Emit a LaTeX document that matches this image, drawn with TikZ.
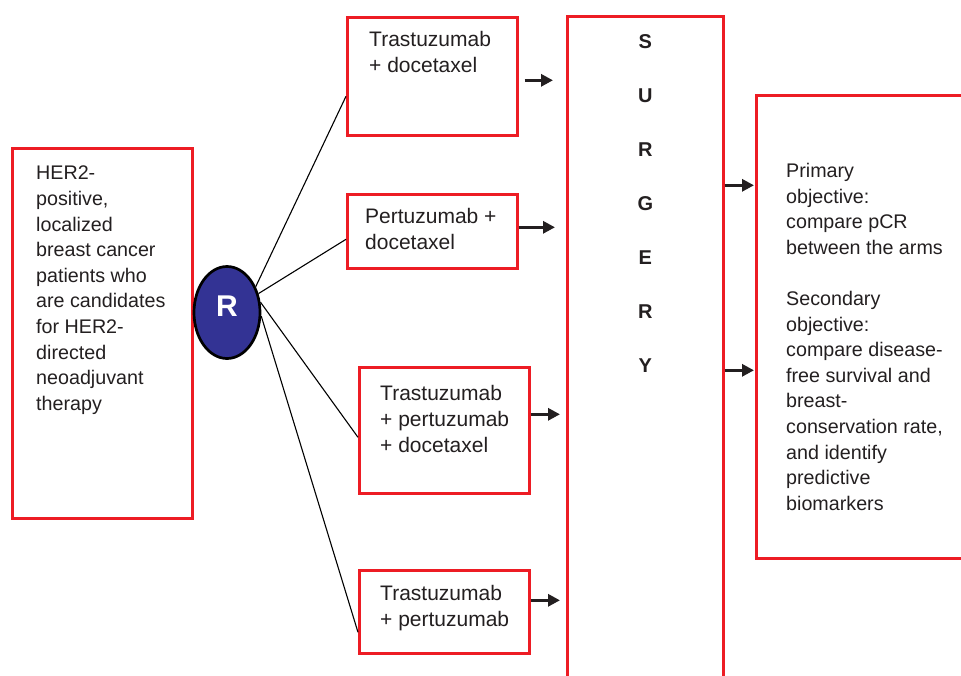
\documentclass[tikz,border=0pt]{standalone}
\usepackage{fontspec}
\setmainfont{Liberation Sans}
\usetikzlibrary{arrows.meta,shapes.geometric}
\definecolor{boxred}{RGB}{237,28,36}
\definecolor{rblue}{RGB}{51,51,148}
\definecolor{ink}{RGB}{35,31,32}
\begin{document}
\begin{tikzpicture}[x=1pt, y=-1pt,
  box/.style = {shape=rectangle, draw=boxred, line width=2.6pt,
    anchor=north west, inner sep=0pt},
  txt/.style = {align=left, inner sep=0pt, text=ink, anchor=north west},
  small/.style = {txt, font=\fontsize{19.7}{25.6}\selectfont},
  arm/.style = {txt, font=\fontsize{21}{26}\selectfont},
  arr/.style = {-{Triangle[length=12pt,width=12pt]}, line width=3pt, draw=ink},
  spoke/.style = {draw=black, line width=1.1pt}]
  \useasboundingbox (0,0) rectangle (961,675);
  \node[box, minimum width=180pt, minimum height=370pt,
    label={[small, xshift=25pt, yshift=-19pt]north west:HER2-\\positive,\\localized\\breast cancer\\patients who\\are candidates\\for HER2-\\directed\\neoadjuvant\\therapy}] (pat) at (11,147) {};
  \node[ellipse, draw=black, line width=2.7pt, fill=rblue,
    minimum width=66pt, minimum height=92pt, text=white, text depth=13pt,
    font=\bfseries\fontsize{30}{30}\selectfont] (R) at (227,312.5) {R};
  \node[box, minimum width=170pt, minimum height=118pt,
    label={[arm, xshift=23pt, yshift=-15pt]north west:Trastuzumab\\+ docetaxel}] (t1) at (346,16) {};
  \node[box, minimum width=170pt, minimum height=74pt,
    label={[arm, xshift=19pt, yshift=-15pt]north west:Pertuzumab +\\docetaxel}] (t2) at (346,193) {};
  \node[box, minimum width=170pt, minimum height=126pt,
    label={[arm, xshift=22pt, yshift=-19pt]north west:Trastuzumab\\+ pertuzumab\\+ docetaxel}] (t3) at (358,366) {};
  \node[box, minimum width=170pt, minimum height=83pt,
    label={[arm, xshift=22pt, yshift=-16pt]north west:Trastuzumab\\+ pertuzumab}] (t4) at (358,569) {};
  \node[box, minimum width=156pt, minimum height=700pt,
    label={[txt, align=center, anchor=north, yshift=-19.7pt,
      font=\bfseries\fontsize{20}{54}\selectfont]north:S\\U\\R\\G\\E\\R\\Y}] (surg) at (566,15) {};
  \node[box, minimum width=230pt, minimum height=463pt,
    label={[small, xshift=31pt, yshift=-69pt]north west:Primary\\objective:\\compare pCR\\between the arms\\[25.6pt]Secondary\\objective:\\compare disease-\\free survival and\\breast-\\conservation rate,\\and identify\\predictive\\biomarkers}] (obj) at (755,94) {};
  \draw[spoke] (R.42) -- ([yshift=-20pt]t1.west);
  \draw[spoke] (R.31) -- ([yshift=-8pt]t2.west);
  \draw[spoke] (R.17) -- ([yshift=-7pt]t3.west);
  \draw[spoke] (R.-6) -- ([yshift=-20.5pt]t4.west);
  \coordinate (a1) at ([xshift=6pt, yshift=-4pt]t1.east);
  \coordinate (a2) at ([yshift=4pt]t2.east);
  \coordinate (a3) at ([yshift=16pt]t3.east);
  \coordinate (a4) at ([yshift=11.5pt]t4.east);
  \coordinate (s1) at ([yshift=181pt]surg.east);
  \coordinate (s2) at ([yshift=-4pt]surg.east);
  \draw[arr, shorten >=13pt] (a1) -- (a1 -| surg.west);
  \draw[arr, shorten >=11pt] (a2) -- (a2 -| surg.west);
  \draw[arr, shorten >=6pt] (a3) -- (a3 -| surg.west);
  \draw[arr, shorten >=6pt] (a4) -- (a4 -| surg.west);
  \draw[arr, shorten >=1pt] (s1) -- (s1 -| obj.west);
  \draw[arr, shorten >=1pt] (s2) -- (s2 -| obj.west);
\end{tikzpicture}
\end{document}
